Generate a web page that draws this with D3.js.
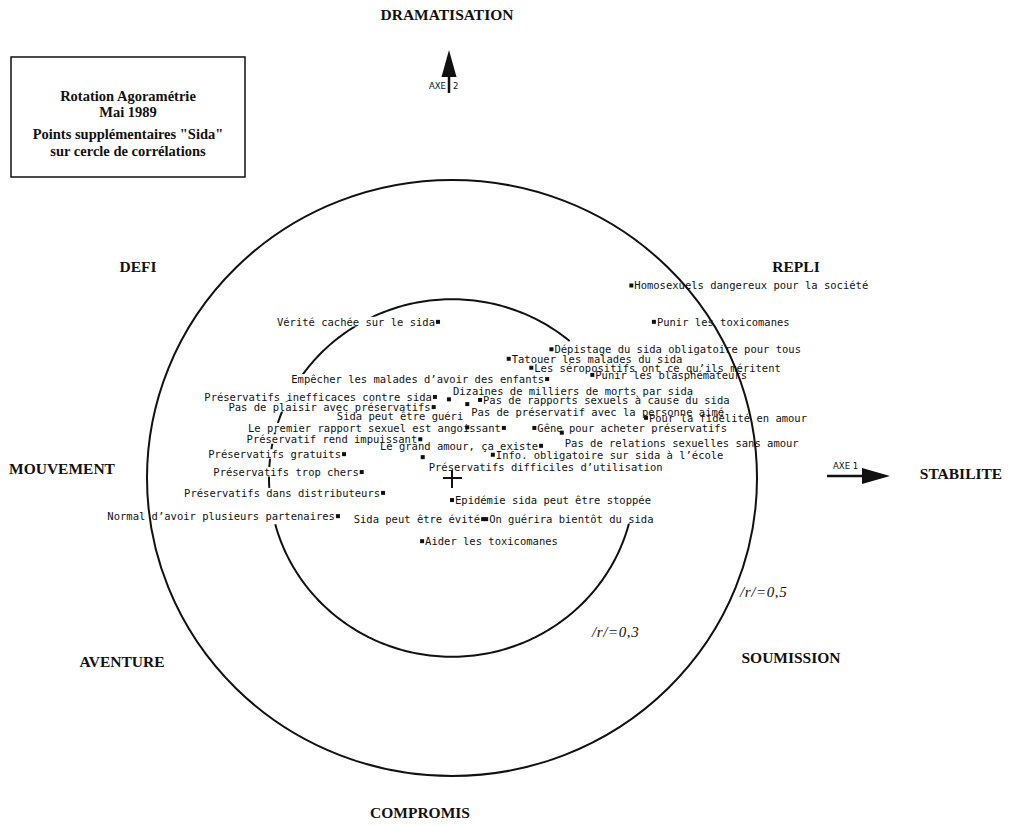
<!DOCTYPE html>
<html>
<head>
<meta charset="utf-8">
<script src="https://cdn.jsdelivr.net/npm/d3@7"></script>
<style>
  body { margin: 0; background: #fff; }
</style>
</head>
<body>
<svg id="chart" width="1009" height="826"></svg>
<script>
// points supplementaires "Sida" - coordinates on axe 1 / axe 2 (correlations)
const labels = [
  "Homosexuels dangereux pour la société",
  "Punir les toxicomanes",
  "Dépistage du sida obligatoire pour tous",
  "Tatouer les malades du sida",
  "Les séropositifs ont ce qu\u2019ils méritent",
  "Punir les blasphémateurs",
  "Empêcher les malades d\u2019avoir des enfants",
  "Vérité cachée sur le sida",
  "Dizaines de milliers de morts par sida",
  "Préservatifs inefficaces contre sida",
  "Pas de préservatif avec la personne aimé",
  "Pas de rapports sexuels à cause du sida",
  "Pas de plaisir avec préservatifs",
  "Sida peut être guéri",
  "Le premier rapport sexuel est angoissant",
  "Gêne pour acheter préservatifs",
  "Pour la fidélité en amour",
  "Pas de relations sexuelles sans amour",
  "Préservatif rend impuissant",
  "Le grand amour, ça existe",
  "Info. obligatoire sur sida à l\u2019école",
  "Préservatifs gratuits",
  "Préservatifs difficiles d\u2019utilisation",
  "Préservatifs trop chers",
  "Préservatifs dans distributeurs",
  "Epidémie sida peut être stoppée",
  "Normal d\u2019avoir plusieurs partenaires",
  "Sida peut être évité",
  "On guérira bientôt du sida",
  "Aider les toxicomanes"
];
const axe1 = [0.294, 0.331, 0.163, 0.093, 0.130, 0.230, 0.156, -0.023, -0.005, -0.028,
              0.025, 0.046, -0.030, 0.025, 0.085, 0.135, 0.318, 0.180, -0.052, 0.146,
              0.067, -0.177, -0.048, -0.148, -0.113, 0.000, -0.187, 0.051, 0.056, -0.049];
const axe2 = [0.323, 0.262, 0.216, 0.200, 0.185, 0.173, 0.166, 0.262, 0.132, 0.136,
              0.124, 0.131, 0.119, 0.085, 0.084, 0.084, 0.101, 0.076, 0.065, 0.054,
              0.039, 0.040, 0.035, 0.010, -0.025, -0.037, -0.064, -0.069, -0.069, -0.106];

const radii = [0.5, 0.3];
const radiusLabels = ["/r/=0,5", "/r/=0,3"];
const poles = ["DRAMATISATION", "DEFI", "REPLI", "MOUVEMENT", "STABILITE", "AVENTURE", "SOUMISSION", "COMPROMIS"];
const titleLines = ["Rotation Agoramétrie", "Mai 1989", "Points supplémentaires \"Sida\"", "sur cercle de corrélations"];

// label placement: s = right of marker, e = left of marker, or [anchor, dx, dy]
const place = ["s", "s", "s", "s", "s", "s", "e", "e", ["start", 4, -8], "e",
               ["start", 4, 8], "s", "e", ["end", -4, -11], "e", "s", "s", ["start", 3, 11], "e", "e",
               "s", "e", ["start", 6, 10], "e", "e", "s", "e", "e", "s", "s"];
const polePos = [[447, 20], [138, 272], [796, 272], [62, 474], [961, 479], [122, 667], [791, 663], [420, 818]];
const radiusPos = [[740, 597], [592, 637]];
// visible pieces of the inner circle (degrees, clockwise from top)
const innerPieces = [[-55, 40], [102, 255], [265, 296]];

const cx = 452, cy = 478;
const x = d3.scaleLinear().domain([-0.5, 0.5]).range([cx - 305, cx + 305]);
const y = d3.scaleLinear().domain([-0.5, 0.5]).range([cy + 298, cy - 298]);

const svg = d3.select("#chart");
svg.append("rect").attr("width", 1009).attr("height", 826).attr("fill", "#fff");

const ink = "#111";
const mono = "'DejaVu Sans Mono', monospace";
const serif = "'Liberation Serif', 'Times New Roman', serif";

// title box
svg.append("rect")
  .attr("x", 11).attr("y", 57).attr("width", 234).attr("height", 120)
  .attr("fill", "none").attr("stroke", ink).attr("stroke-width", 1.5);
svg.append("g").selectAll("text")
  .data(titleLines)
  .join("text")
    .attr("x", 128)
    .attr("y", (d, i) => [101, 117, 139, 156][i])
    .attr("text-anchor", "middle")
    .attr("font-family", serif).attr("font-weight", "bold").attr("font-size", 14.5)
    .attr("fill", ink)
    .text(d => d);

// inner circle (drawn in pieces) on the scaled ellipse
const innerG = svg.append("g");
const onCircle = (r, deg) => {
  const a = deg * Math.PI / 180;
  return [x(r * Math.sin(a)), y(r * Math.cos(a))];
};
const arcLine = d3.line();
innerPieces.forEach(p => {
  const pts = d3.range(p[0], p[1] + 0.5, 1).map(deg => onCircle(radii[1], deg));
  innerG.append("path").attr("d", arcLine(pts))
    .attr("fill", "none").attr("stroke", ink).attr("stroke-width", 2);
});

const knockG = svg.append("g");

// outer circle
svg.append("ellipse")
  .attr("cx", x(0)).attr("cy", y(0))
  .attr("rx", x(radii[0]) - x(0)).attr("ry", y(0) - y(radii[0]))
  .attr("fill", "none").attr("stroke", ink).attr("stroke-width", 2);

// centre cross
svg.append("line").attr("x1", x(0) - 9).attr("x2", x(0) + 10).attr("y1", y(0)).attr("y2", y(0))
  .attr("stroke", ink).attr("stroke-width", 2);
svg.append("line").attr("x1", x(0)).attr("x2", x(0)).attr("y1", y(0) - 8).attr("y2", y(0) + 10)
  .attr("stroke", ink).attr("stroke-width", 2);

// points
const pts = labels.map((d, i) => ({ name: d, a1: axe1[i], a2: axe2[i], p: place[i] }));

const textG = svg.append("g")
  .attr("font-family", mono).attr("font-size", 10.5).attr("fill", ink);

textG.selectAll("text")
  .data(pts)
  .join("text")
    .attr("x", d => {
      if (d.p === "s") return x(d.a1) + 3;
      if (d.p === "e") return x(d.a1) - 3;
      return x(d.a1) + d.p[1];
    })
    .attr("y", d => y(d.a2) + (Array.isArray(d.p) ? d.p[2] : 0))
    .attr("dy", "0.36em")
    .attr("text-anchor", d => d.p === "s" ? "start" : d.p === "e" ? "end" : d.p[0])
    .text(d => d.name)
    .each(function () {
      const b = this.getBBox();
      const my = +this.getAttribute("y");
      knockG.append("rect")
        .attr("x", b.x - 1).attr("y", my - 5).attr("width", b.width + 2).attr("height", 9.5)
        .attr("fill", "#fff");
    });

svg.append("g").selectAll("rect")
  .data(pts)
  .join("rect")
    .attr("x", d => x(d.a1) - 2)
    .attr("y", d => y(d.a2) - 2)
    .attr("width", 4).attr("height", 4)
    .attr("fill", ink);

// radius labels
svg.append("g").selectAll("text")
  .data(radiusLabels)
  .join("text")
    .attr("x", (d, i) => radiusPos[i][0])
    .attr("y", (d, i) => radiusPos[i][1])
    .attr("font-family", serif).attr("font-style", "italic").attr("font-size", 15)
    .attr("letter-spacing", 0.6)
    .attr("fill", ink)
    .text(d => d);

// pole names
svg.append("g").selectAll("text")
  .data(poles)
  .join("text")
    .attr("x", (d, i) => polePos[i][0])
    .attr("y", (d, i) => polePos[i][1])
    .attr("text-anchor", "middle")
    .attr("font-family", serif).attr("font-weight", "bold").attr("font-size", 15.5)
    .attr("fill", ink)
    .text(d => d);

// axis arrows
const axeFont = "'DejaVu Sans Condensed', 'DejaVu Sans', sans-serif";
svg.append("line").attr("x1", 449).attr("x2", 449).attr("y1", 93).attr("y2", 72)
  .attr("stroke", ink).attr("stroke-width", 2.5);
svg.append("path").attr("d", "M449,50 L456.5,77 L441.5,77 Z").attr("fill", ink);
svg.append("text").attr("x", 446).attr("y", 89).attr("text-anchor", "end")
  .attr("font-family", axeFont).attr("font-size", 9.5).attr("fill", ink).text("AXE");
svg.append("text").attr("x", 453).attr("y", 89)
  .attr("font-family", axeFont).attr("font-size", 9.5).attr("fill", ink).text("2");

svg.append("line").attr("x1", 827).attr("x2", 866).attr("y1", 476).attr("y2", 476)
  .attr("stroke", ink).attr("stroke-width", 2.5);
svg.append("path").attr("d", "M890,476 L862,468 L862,484 Z").attr("fill", ink);
svg.append("text").attr("x", 833).attr("y", 469)
  .attr("font-family", axeFont).attr("font-size", 9.5).attr("fill", ink).text("AXE  1");
</script>
</body>
</html>
